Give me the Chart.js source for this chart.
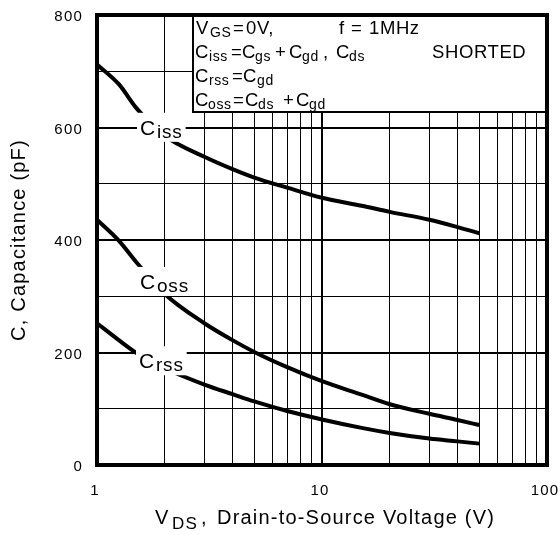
<!DOCTYPE html>
<html><head><meta charset="utf-8">
<script src="https://cdn.jsdelivr.net/npm/chart.js@4"></script>
<style>html,body{margin:0;padding:0;background:#fff}</style>
</head><body>
<canvas id="c" width="560" height="535"></canvas>
<script>
// ---- data ----
const vds  = [1, 1.25, 1.5, 2, 3, 4, 5, 7, 10, 15, 20, 30, 40, 50];
const ciss = [712, 677, 634, 585, 548, 526, 511, 493, 475, 461, 450, 436, 423, 412];
const coss = [436, 399, 360, 304, 252, 222, 201, 174, 149, 125, 108, 91, 80, 71];
const crss = [252, 222, 199, 172, 143, 126, 113, 96, 81, 66, 57, 47, 42, 38];
const xTickValues = [1,2,3,4,5,6,7,8,9,10,20,30,40,50,60,70,80,90,100];
const xTickLabels = ['1','10','100'];
const yTickValues = [0,100,200,300,400,500,600,700,800];
const yTickLabels = ['0','200','400','600','800'];
const curveNames = [['C','iss'],['C','oss'],['C','rss']];
const yTitle = 'C, Capacitance (pF)';
const xTitleParts = [['V',0],['DS',1],[',',0],['Drain-to-Source Voltage (V)',0]];
const legendLines = [
  [['V',0],['GS',1],['=',0],['0V,',0],['f',0],['=',0],['1MHz',0]],
  [['C',0],['iss',1],['=',0],['C',0],['gs',1],['+',0],['C',0],['gd',1],[',',0],['C',0],['ds',1],['SHORTED',0]],
  [['C',0],['rss',1],['=',0],['C',0],['gd',1]],
  [['C',0],['oss',1],['=',0],['C',0],['ds',1],['+',0],['C',0],['gd',1]]
];

// ---- layout (pixel offsets, styles) ----
const FONT = "'Liberation Sans', Arial, Helvetica, sans-serif";
const legendX = [
  [3,17,40,53,146,158,176],
  [2,16,38,49,62,82,96,109,130,143,156,239],
  [2,16,39,50,64],
  [2,15,40,52,65,90,103,116]
];
const legendBase = [19,43,67,91];
const xTitleX = [58,75,104,120];
// label anchors in data space (left of "C", baseline)
const labelAnchors = [[1.553,587],[1.553,313],[1.537,172]];

const pts = arr => vds.slice(0, arr.length).map((v,i)=>({x:v,y:arr[i]}));
const mkDs = (arr) => ({data: pts(arr), borderColor:'#000', borderWidth:4, pointRadius:0,
  fill:false, cubicInterpolationMode:'monotone', borderCapStyle:'butt', borderJoinStyle:'round'});

function drawRuns(ctx, runs, xs, x0, base, big, small, drop){
  runs.forEach((r,i)=>{
    ctx.font = (r[1] ? small : big) + 'px ' + FONT;
    ctx.fillText(r[0], x0 + xs[i], base + (r[1] ? drop : 0));
  });
}

const deco = {
  id:'deco',
  beforeDraw(chart){ chart.ctx.letterSpacing = '1.2px'; },
  afterDatasetsDraw(chart){
    const ctx = chart.ctx, a = chart.chartArea, sx = chart.scales.x, sy = chart.scales.y;
    ctx.save();
    ctx.textBaseline = 'alphabetic'; ctx.textAlign = 'left';
    // legend box
    const lx = a.left + 96, ly = a.top, lh = 97;
    ctx.fillStyle = '#fff';
    ctx.fillRect(lx, ly, a.right - lx, lh);
    ctx.strokeStyle = '#000'; ctx.lineWidth = 2;
    ctx.strokeRect(lx, ly, a.right - lx, lh);
    ctx.fillStyle = '#000';
    ctx.letterSpacing = '0.6px';
    legendLines.forEach((ln,i)=> drawRuns(ctx, ln, legendX[i], lx, ly + legendBase[i], 18.5, 14, 2.5));
    // curve labels
    ctx.letterSpacing = '0.8px';
    curveNames.forEach((nm,i)=>{
      const px = sx.getPixelForValue(labelAnchors[i][0]);
      const py = sy.getPixelForValue(labelAnchors[i][1]);
      ctx.font = '21px ' + FONT; const w1 = ctx.measureText(nm[0]).width;
      ctx.font = '19px ' + FONT; const w2 = ctx.measureText(nm[1]).width;
      ctx.fillStyle = '#fff';
      ctx.fillRect(px - 3, py - 22, w1 + w2 + 7, 29);
      ctx.fillStyle = '#000';
      ctx.font = '21px ' + FONT; ctx.fillText(nm[0], px, py);
      ctx.font = '19px ' + FONT; ctx.fillText(nm[1], px + w1 + 1, py + 3);
    });
    // x axis title
    ctx.letterSpacing = '1.2px';
    drawRuns(ctx, xTitleParts, xTitleX, a.left, a.bottom + 59, 20, 17, 5);
    ctx.restore();
  },
  afterDraw(chart){
    const ctx = chart.ctx, a = chart.chartArea;
    ctx.save();
    ctx.strokeStyle = '#000'; ctx.lineWidth = 4;
    ctx.strokeRect(a.left, a.top, a.right - a.left, a.bottom - a.top);
    ctx.restore();
  }
};

new Chart(document.getElementById('c'), {
  type:'line',
  data:{ datasets:[mkDs(ciss), mkDs(coss), mkDs(crss)] },
  options:{
    responsive:false, animation:false, devicePixelRatio:1,
    layout:{padding:{top:15,right:13,left:0,bottom:0}},
    plugins:{legend:{display:false}, tooltip:{enabled:false}},
    scales:{
      x:{type:'logarithmic', min:1, max:100,
        afterBuildTicks: s => { s.ticks = xTickValues.map(v=>({value:v})); },
        afterFit: s => { s.height = 70; s.paddingLeft = 0; s.paddingRight = 0; },
        ticks:{autoSkip:false, maxRotation:0, padding:17, labelOffset:-2, color:'#000',
          font:{family:FONT, size:15},
          callback: v => xTickLabels.includes(String(v)) ? String(v) : ''},
        grid:{drawTicks:false, color:'#000',
          lineWidth: c => { const v = c.tick ? c.tick.value : 0; return (v===1||v===100) ? 0 : (v===10 ? 2 : 1); }},
        border:{display:false}
      },
      y:{type:'linear', min:0, max:800,
        afterBuildTicks: s => { s.ticks = yTickValues.map(v=>({value:v})); },
        afterFit: s => { s.width = 97; s.paddingTop = 0; s.paddingBottom = 0; },
        ticks:{padding:14, labelOffset:2, color:'#000', font:{family:FONT, size:15},
          callback: v => yTickLabels.includes(String(v)) ? String(v) : ''},
        grid:{drawTicks:false, color:'#000',
          lineWidth: c => { const v = c.tick ? c.tick.value : 0; return (v===0||v===800) ? 0 : (v%200===0 ? 2 : 1); }},
        border:{display:false},
        title:{display:true, text:yTitle, color:'#000', font:{family:FONT, size:20}, padding:{top:7,bottom:0}}
      }
    }
  },
  plugins:[deco]
});
</script>
</body></html>
